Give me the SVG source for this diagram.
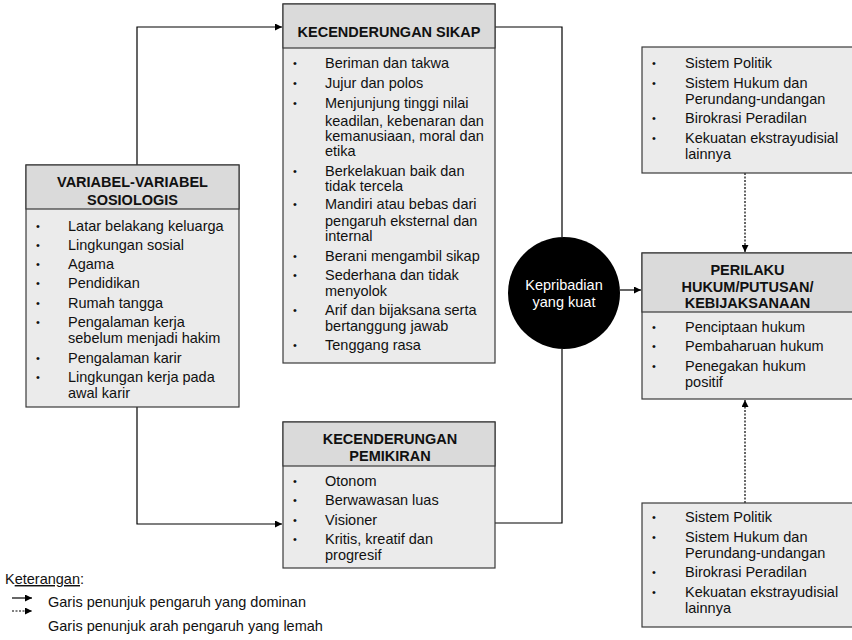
<svg xmlns="http://www.w3.org/2000/svg" width="852" height="640" viewBox="0 0 852 640">
<style>
text{font-family:"Liberation Sans",Arial,sans-serif;font-size:14.5px;fill:#111}
.h{font-weight:bold;text-anchor:middle}
.b{font-size:11px}
.hd{fill:#dadada;stroke:#3a3a3a;stroke-width:1.2}
.bd{fill:#ebebeb;stroke:#3a3a3a;stroke-width:1.2}
.c{fill:none;stroke:#000;stroke-width:1.2}
.d{fill:none;stroke:#000;stroke-width:1.2;stroke-dasharray:2 1.5}
.w{fill:#fff;text-anchor:middle}
</style>
<defs>
<marker id="ar" viewBox="0 0 10 10" refX="10" refY="5" markerWidth="7" markerHeight="7" markerUnits="userSpaceOnUse" orient="auto"><path d="M0,0L10,5L0,10z" fill="#000"/></marker>
</defs>
<g id="connectors">
<path class="c" d="M137,165V27H282" marker-end="url(#ar)"/>
<path class="c" d="M137,407V524H282" marker-end="url(#ar)"/>
<path class="c" d="M495,27H562V237"/>
<path class="c" d="M495,523H562V349"/>
<path class="c" d="M620,290H641" marker-end="url(#ar)"/>
<path class="d" d="M745,173V252" marker-end="url(#ar)"/>
<path class="d" d="M745,503V400" marker-end="url(#ar)"/>
</g>
<g id="sosiologis">
<rect class="bd" x="26" y="165" width="213" height="242"/>
<rect class="hd" x="26" y="165" width="213" height="44"/>
<text class="h" x="132.5" y="187">VARIABEL-VARIABEL</text>
<text class="h" x="132.5" y="205">SOSIOLOGIS</text>
<text class="b" x="36" y="230">•</text><text x="68" y="231">Latar belakang keluarga</text>
<text class="b" x="36" y="249">•</text><text x="68" y="250">Lingkungan sosial</text>
<text class="b" x="36" y="268">•</text><text x="68" y="269">Agama</text>
<text class="b" x="36" y="287">•</text><text x="68" y="288">Pendidikan</text>
<text class="b" x="36" y="307">•</text><text x="68" y="308">Rumah tangga</text>
<text class="b" x="36" y="326">•</text><text x="68" y="327">Pengalaman kerja</text>
<text x="68" y="343">sebelum menjadi hakim</text>
<text class="b" x="36" y="362">•</text><text x="68" y="363">Pengalaman karir</text>
<text class="b" x="36" y="381">•</text><text x="68" y="382">Lingkungan kerja pada</text>
<text x="68" y="398">awal karir</text>
</g>
<g id="sikap">
<rect class="bd" x="283" y="4" width="212" height="359"/>
<rect class="hd" x="283" y="4" width="212" height="44"/>
<text class="h" x="389" y="37">KECENDERUNGAN SIKAP</text>
<text class="b" x="293" y="67">•</text><text x="325" y="68">Beriman dan takwa</text>
<text class="b" x="293" y="87">•</text><text x="325" y="88">Jujur dan polos</text>
<text class="b" x="293" y="107">•</text><text x="325" y="108">Menjunjung tinggi nilai</text>
<text x="325" y="126">keadilan, kebenaran dan</text>
<text x="325" y="141">kemanusiaan, moral dan</text>
<text x="325" y="156">etika</text>
<text class="b" x="293" y="175">•</text><text x="325" y="176">Berkelakuan baik dan</text>
<text x="325" y="191">tidak tercela</text>
<text class="b" x="293" y="208">•</text><text x="325" y="209">Mandiri atau bebas dari</text>
<text x="325" y="226">pengaruh eksternal dan</text>
<text x="325" y="241">internal</text>
<text class="b" x="293" y="260">•</text><text x="325" y="261">Berani mengambil sikap</text>
<text class="b" x="293" y="279">•</text><text x="325" y="280">Sederhana dan tidak</text>
<text x="325" y="296">menyolok</text>
<text class="b" x="293" y="314">•</text><text x="325" y="315">Arif dan bijaksana serta</text>
<text x="325" y="331">bertanggung jawab</text>
<text class="b" x="293" y="349">•</text><text x="325" y="350">Tenggang rasa</text>
</g>
<g id="pemikiran">
<rect class="bd" x="283" y="422" width="212" height="146"/>
<rect class="hd" x="283" y="422" width="212" height="44"/>
<text class="h" x="390" y="444">KECENDERUNGAN</text>
<text class="h" x="390" y="461">PEMIKIRAN</text>
<text class="b" x="293" y="485">•</text><text x="325" y="486">Otonom</text>
<text class="b" x="293" y="504">•</text><text x="325" y="505">Berwawasan luas</text>
<text class="b" x="293" y="524">•</text><text x="325" y="525">Visioner</text>
<text class="b" x="293" y="543">•</text><text x="325" y="544">Kritis, kreatif dan</text>
<text x="325" y="560">progresif</text>
</g>
<g id="kepribadian">
<circle cx="564" cy="293" r="56" fill="#000"/>
<text class="w" x="564" y="290">Kepribadian</text>
<text class="w" x="564" y="307">yang kuat</text>
</g>
<g id="faktor-atas">
<rect class="bd" x="642" y="47" width="212" height="126"/>
<text class="b" x="652" y="67">•</text><text x="685" y="68">Sistem Politik</text>
<text class="b" x="652" y="87">•</text><text x="685" y="88">Sistem Hukum dan</text>
<text x="685" y="104">Perundang-undangan</text>
<text class="b" x="652" y="122">•</text><text x="685" y="123">Birokrasi Peradilan</text>
<text class="b" x="652" y="142">•</text><text x="685" y="143">Kekuatan ekstrayudisial</text>
<text x="685" y="159">lainnya</text>
</g>
<g id="perilaku">
<rect class="bd" x="642" y="253" width="212" height="146"/>
<rect class="hd" x="642" y="253" width="212" height="59"/>
<text class="h" x="747.5" y="275">PERILAKU</text>
<text class="h" x="747.5" y="292">HUKUM/PUTUSAN/</text>
<text class="h" x="747.5" y="308">KEBIJAKSANAAN</text>
<text class="b" x="652" y="331">•</text><text x="685" y="332">Penciptaan hukum</text>
<text class="b" x="652" y="350">•</text><text x="685" y="351">Pembaharuan hukum</text>
<text class="b" x="652" y="370">•</text><text x="685" y="371">Penegakan hukum</text>
<text x="685" y="387">positif</text>
</g>
<g id="faktor-bawah">
<rect class="bd" x="642" y="503" width="212" height="124"/>
<text class="b" x="652" y="521">•</text><text x="685" y="522">Sistem Politik</text>
<text class="b" x="652" y="541">•</text><text x="685" y="542">Sistem Hukum dan</text>
<text x="685" y="558">Perundang-undangan</text>
<text class="b" x="652" y="576">•</text><text x="685" y="577">Birokrasi Peradilan</text>
<text class="b" x="652" y="596">•</text><text x="685" y="597">Kekuatan ekstrayudisial</text>
<text x="685" y="613">lainnya</text>
</g>
<g id="keterangan">
<text x="5" y="584">K<tspan text-decoration="underline">eterangan</tspan>:</text>
<path class="c" d="M12,598H32" marker-end="url(#ar)"/>
<text x="48" y="607">Garis penunjuk pengaruh yang dominan</text>
<path class="d" d="M12,611H32" marker-end="url(#ar)"/>
<text x="48" y="631">Garis penunjuk arah pengaruh yang lemah</text>
</g>
</svg>
